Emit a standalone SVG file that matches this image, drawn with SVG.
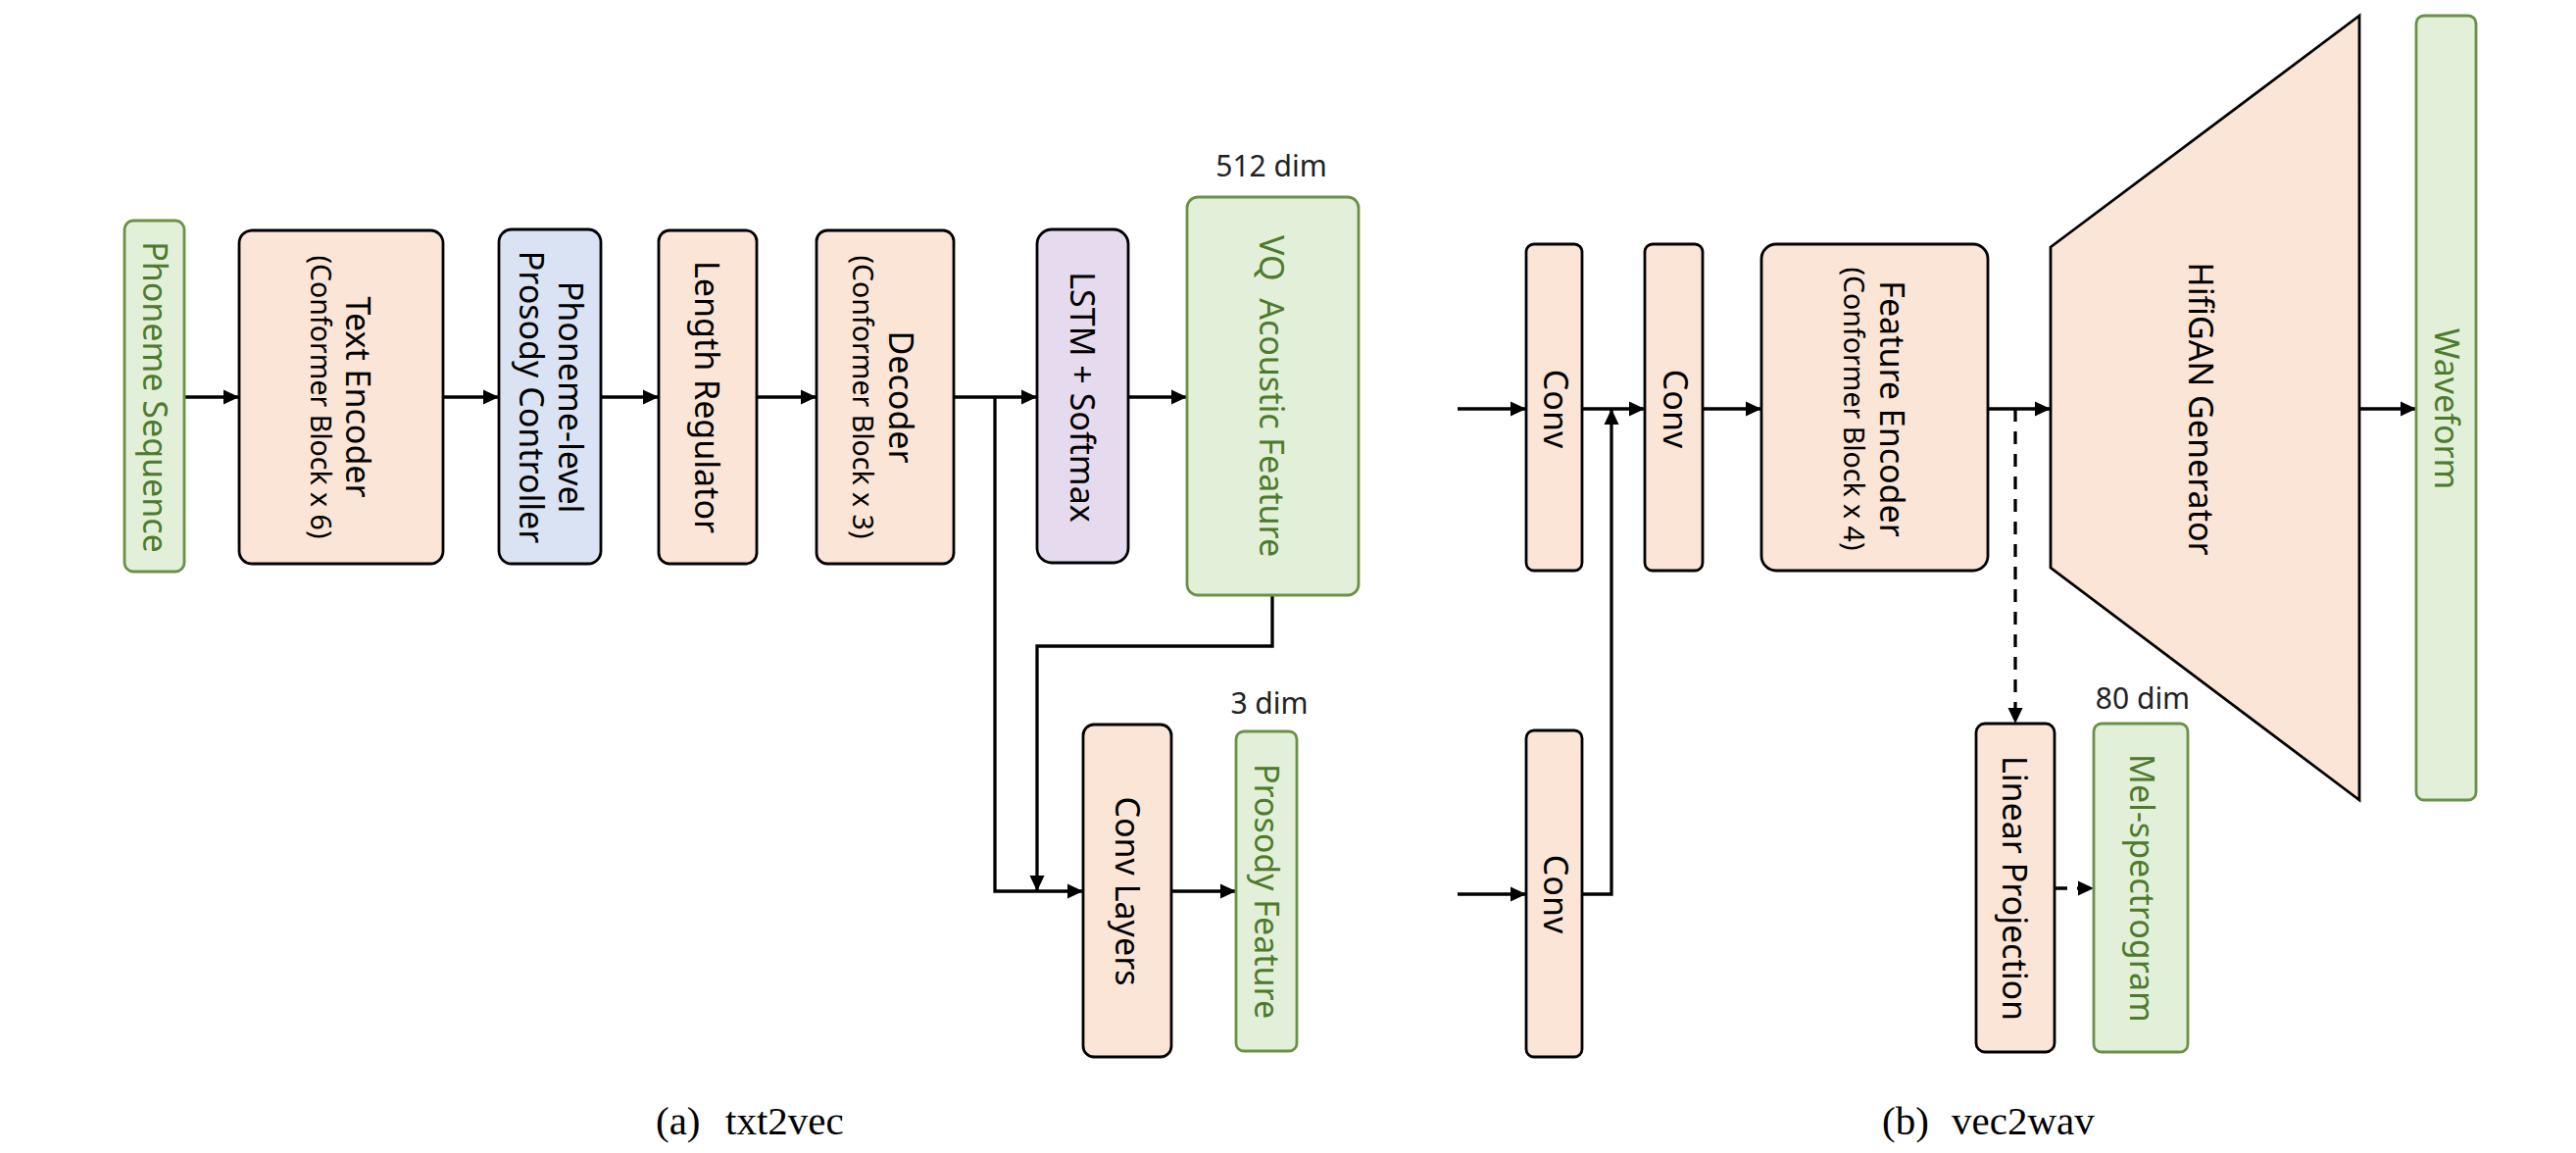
<svg xmlns="http://www.w3.org/2000/svg" width="2628" height="1176" viewBox="0 0 2628 1176">
<style>
.peach{fill:#FBE5D6;stroke:#000;stroke-width:2.8}
.blue{fill:#DAE3F3;stroke:#000;stroke-width:2.8}
.purple{fill:#E6DAEE;stroke:#000;stroke-width:2.8}
.green{fill:#E2F0D9;stroke:#6A9148;stroke-width:2.8}
.t{font-family:"Noto Sans","Open Sans",sans-serif;font-size:34px;text-anchor:middle;fill:#000}
.s{font-size:28.5px}
.gt{fill:#4E7A2C}
.dim{font-family:"Noto Sans","Open Sans",sans-serif;font-size:30px;text-anchor:middle;fill:#222}
.conn{fill:none;stroke:#000;stroke-width:3.3}
.dash{stroke-dasharray:13 10}
.cap{font-family:"Liberation Serif","Times New Roman",serif;font-size:41px;fill:#000}
</style>
<defs>
<marker id="ah" markerWidth="16" markerHeight="16" refX="16" refY="8" orient="auto" markerUnits="userSpaceOnUse">
<path d="M0,0.5 L16,8 L0,15.5 z" fill="#000"/>
</marker>
</defs>

<g id="connectors">
<line class="conn" x1="188" y1="405" x2="244" y2="405" marker-end="url(#ah)"/>
<line class="conn" x1="452" y1="405" x2="509" y2="405" marker-end="url(#ah)"/>
<line class="conn" x1="613" y1="405" x2="672" y2="405" marker-end="url(#ah)"/>
<line class="conn" x1="772" y1="405" x2="833" y2="405" marker-end="url(#ah)"/>
<line class="conn" x1="973" y1="405" x2="1058" y2="405" marker-end="url(#ah)"/>
<line class="conn" x1="1151" y1="405" x2="1211" y2="405" marker-end="url(#ah)"/>
<polyline class="conn" points="1015,405 1015,909 1105,909" marker-end="url(#ah)"/>
<polyline class="conn" points="1298,607 1298,659 1058,659 1058,909" marker-end="url(#ah)"/>
<line class="conn" x1="1195" y1="909" x2="1261" y2="909" marker-end="url(#ah)"/>

<line class="conn" x1="1487" y1="417" x2="1557" y2="417" marker-end="url(#ah)"/>
<line class="conn" x1="1614" y1="417" x2="1678" y2="417" marker-end="url(#ah)"/>
<line class="conn" x1="1487" y1="912" x2="1557" y2="912" marker-end="url(#ah)"/>
<polyline class="conn" points="1614,912 1644,912 1644,417" marker-end="url(#ah)"/>
<line class="conn" x1="1737" y1="417" x2="1797" y2="417" marker-end="url(#ah)"/>
<line class="conn" x1="2028" y1="417" x2="2092" y2="417" marker-end="url(#ah)"/>
<line class="conn dash" x1="2056" y1="417" x2="2056" y2="738" marker-end="url(#ah)"/>
<line class="conn dash" x1="2096" y1="906" x2="2136" y2="906" marker-end="url(#ah)"/>
<line class="conn" x1="2407" y1="417" x2="2465" y2="417" marker-end="url(#ah)"/>
</g>

<g id="phoneme-sequence">
<rect class="green" x="127" y="225" width="61" height="358" rx="9"/>
<text class="t gt" transform="translate(157.5,405) rotate(90)" y="12">Phoneme Sequence</text>
</g>
<g id="text-encoder">
<rect class="peach" x="244" y="235" width="208" height="340" rx="13"/>
<text class="t" transform="translate(348,405) rotate(90)" y="-5">Text Encoder</text>
<text class="t s" transform="translate(348,405) rotate(90)" y="31">(Conformer Block x 6)</text>
</g>
<g id="prosody-controller">
<rect class="blue" x="509" y="234" width="104" height="341" rx="13"/>
<text class="t" transform="translate(561,405) rotate(90)" y="-9">Phoneme-level</text>
<text class="t" transform="translate(561,405) rotate(90)" y="31">Prosody Controller</text>
</g>
<g id="length-regulator">
<rect class="peach" x="672" y="235" width="100" height="340" rx="11"/>
<text class="t" transform="translate(722,405) rotate(90)" y="13">Length Regulator</text>
</g>
<g id="decoder">
<rect class="peach" x="833" y="235" width="140" height="340" rx="11"/>
<text class="t" transform="translate(903,405) rotate(90)" y="-4">Decoder</text>
<text class="t s" transform="translate(903,405) rotate(90)" y="33">(Conformer Block x 3)</text>
</g>
<g id="lstm-softmax">
<rect class="purple" x="1058" y="234" width="93" height="340" rx="15"/>
<text class="t" transform="translate(1104.5,405) rotate(90)" y="13">LSTM + Softmax</text>
</g>
<g id="vq-acoustic-feature">
<rect class="green" x="1211" y="201" width="175" height="406" rx="11"/>
<text class="t gt" transform="translate(1298,404) rotate(90)" y="13" xml:space="preserve">VQ  Acoustic Feature</text>
<text class="dim" x="1297" y="180">512 dim</text>
</g>
<g id="conv-layers">
<rect class="peach" x="1105" y="739" width="90" height="339" rx="11"/>
<text class="t" transform="translate(1150,909) rotate(90)" y="12">Conv Layers</text>
</g>
<g id="prosody-feature">
<rect class="green" x="1261" y="746" width="62" height="326" rx="8"/>
<text class="t gt" transform="translate(1292,909) rotate(90)" y="12">Prosody Feature</text>
<text class="dim" x="1295" y="728">3 dim</text>
</g>

<g id="conv1">
<rect class="peach" x="1557" y="249" width="57" height="333" rx="8"/>
<text class="t" transform="translate(1585.5,417) rotate(90)" y="11">Conv</text>
</g>
<g id="conv2">
<rect class="peach" x="1678" y="249" width="59" height="333" rx="8"/>
<text class="t" transform="translate(1707.5,417) rotate(90)" y="11">Conv</text>
</g>
<g id="conv3">
<rect class="peach" x="1557" y="745" width="57" height="333" rx="8"/>
<text class="t" transform="translate(1585.5,912) rotate(90)" y="11">Conv</text>
</g>
<g id="feature-encoder">
<rect class="peach" x="1797" y="249" width="231" height="333" rx="15"/>
<text class="t" transform="translate(1912.5,417) rotate(90)" y="-5">Feature Encoder</text>
<text class="t s" transform="translate(1912.5,417) rotate(90)" y="32">(Conformer Block x 4)</text>
</g>
<g id="hifigan-generator">
<polygon class="peach" points="2092,252 2407,16 2407,816 2092,579"/>
<text class="t" transform="translate(2249.5,417) rotate(90)" y="17">HifiGAN Generator</text>
</g>
<g id="waveform">
<rect class="green" x="2465" y="16" width="61" height="800" rx="8"/>
<text class="t gt" transform="translate(2495.5,417) rotate(90)" y="12">Waveform</text>
</g>
<g id="linear-projection">
<rect class="peach" x="2016" y="738" width="80" height="335" rx="9"/>
<text class="t" transform="translate(2056,906) rotate(90)" y="13">Linear Projection</text>
</g>
<g id="mel-spectrogram">
<rect class="green" x="2136" y="738" width="96" height="335" rx="8"/>
<text class="t gt" transform="translate(2184,906) rotate(90)" y="11">Mel-spectrogram</text>
<text class="dim" x="2186" y="723">80 dim</text>
</g>

<g id="captions">
<text class="cap" x="669" y="1157">(a)<tspan x="740">txt2vec</tspan></text>
<text class="cap" x="1920" y="1157">(b)<tspan x="1991">vec2wav</tspan></text>
</g>
</svg>
